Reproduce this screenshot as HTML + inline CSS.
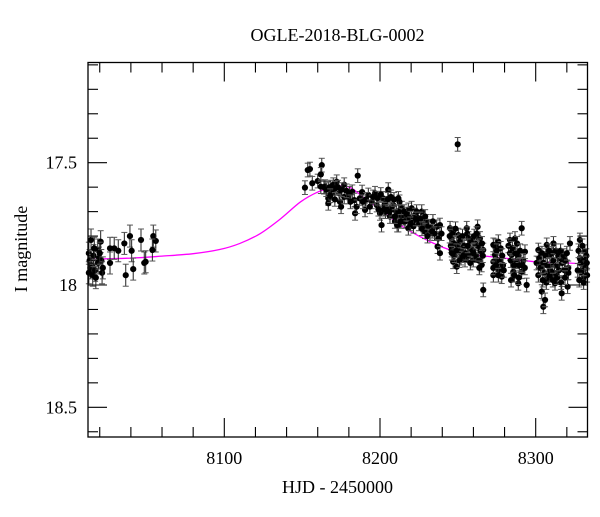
<!DOCTYPE html>
<html><head><meta charset="utf-8"><style>
html,body{margin:0;padding:0;background:#fff;}
svg text{font-family:"Liberation Serif",serif;fill:#000;}
</style></head><body>
<svg id="chart" width="600" height="512" viewBox="0 0 600 512" xmlns="http://www.w3.org/2000/svg">
<text x="337.5" y="41" font-size="18" text-anchor="middle">OGLE-2018-BLG-0002</text>
<text x="337.5" y="493" font-size="18" text-anchor="middle">HJD - 2450000</text>
<text x="0" y="0" font-size="18" text-anchor="middle" transform="translate(27,249) rotate(-90)">I magnitude</text>
<g id="ticks"></g>
<g id="model"></g>
<g id="pts"></g>
<rect x="88" y="62.5" width="499.5" height="374.5" fill="none" stroke="#000" stroke-width="1.3"/>
</svg>
<script>
const xMajorTicks=[8100,8200,8300];
const xMinorTicks=[8020,8040,8060,8080,8120,8140,8160,8180,8220,8240,8260,8280,8320];
const yMajorTicks=[17.5,18,18.5];
const yMinorTicks=[17.1,17.2,17.3,17.4,17.6,17.7,17.8,17.9,18.1,18.2,18.3,18.4,18.6];
const xTickLabels=["8100","8200","8300"];
const yTickLabels=["17.5","18","18.5"];
const modelHjd=[8012,8040,8060,8080,8097,8110,8123,8136,8149,8160,8170,8176,8182,8190,8200,8212,8225,8240,8250,8265,8280,8300,8320,8334];
const modelMag=[17.895,17.89,17.882,17.872,17.855,17.83,17.79,17.73,17.66,17.62,17.60,17.595,17.605,17.645,17.69,17.75,17.80,17.845,17.865,17.88,17.89,17.905,17.91,17.915];
const earlyErr=0.045;
const earlyHjd=[8013,8013.5,8014,8014.4,8015,8015.5,8016,8017,8017.5,8018.7,8019,8019.5,8020.6,8021,8021.5,8022,8020,8013,8016.5,8026.6,8026.6,8029.3,8031.9,8035.8,8039.4,8040.5,8036.7,8041.5,8046.5,8048.6,8049.5,8054.4,8056,8053.8];
const earlyMag=[17.87,17.90,17.93,17.816,17.92,17.96,17.88,17.94,17.97,17.857,17.91,17.89,17.823,17.90,17.95,17.93,17.87,17.95,17.85,17.85,17.91,17.85,17.86,17.83,17.80,17.86,17.96,17.935,17.816,17.91,17.905,17.80,17.82,17.857];
const mainErr=0.028;
const mainHjd=[8151.8,8153.6,8155,8156.5,8160,8162.6,8162,8162,8164.7,8166.8,8170,8172.2,8166.8,8166.8,8169,8173.7,8174.3,8175,8177,8177,8179.6,8185.7,8182.2,8183.5,8184,8185,8187,8190.4,8192.5,8194.7,8196.8,8197.9,8200,8201,8202,8204,8205.3,8206.4,8208.5,8209.6,8211.8,8214,8215,8249.9,
8164,8165.5,8168,8171,8173,8175.5,8178.5,8180.5,8181,8168,8171,8188.5,8189,8191,8193.5,8195.5,8198.5,8199,8200.5,8203,8203.5,8205,8207,8207.5,8209,8210.5,8212.5,8213,8215.5,8216,
8211.8,8211.8,8211,8218.2,8220.3,8219.2,8218.2,8222.5,8224.6,8226.8,8227.8,8230,8228.9,8232.1,8233.2,8236.4,8237.4,8237,8238.5,8238.5,8245,8246,8246,8247,8249.3,8249.3,8250.3,8252.5,8254.6,8255.7,8256.8,8257.8,8259.9,8261,8262.7,8264.2,8265.3,8266.3,8266.3,8272.8,8272.8,8272.8,
8221,8223.5,8225,8229,8231,8234,8235,8239.5,8221.5,8226,8246.5,8247.5,8248,8250.5,8251.5,8252,8253,8254,8255,8256,8257,8258.5,8259.5,8260.5,8261.5,8263,8263.5,8264.5,8265.5,8266,8245.5,8248.5,8262,8244.8,
8291,8276,8273.9,8272.8,8278.2,8277.2,8283.5,8286.7,8284.6,8287.8,8285.6,8288.8,8291,8294.2,8293.1,8301.7,8300.6,8301.7,8303.9,8304.9,8306,8307.1,8309.2,8310.3,8311.4,8313.5,8312.4,8315.6,8316.7,8320.9,8320.5,8322,8328.4,8328.4,8330.5,8330.5,8331.6,
8274,8275,8275.5,8276.5,8277.5,8278.5,8279,8282.5,8283.5,8284,8285,8286,8287,8288,8289,8289.5,8290,8292,8293,8302.5,8303,8304,8305,8305.5,8306.5,8307.5,8308,8308.5,8309.5,8310.5,8311.5,8312,8313,8314,8314.5,8315,8316,8317,8318,8318.5,8319,8320,8321,8327.5,8329,8329.5,8330,8331,8332,8332.5,8333,8327,
8202.5,8206,8209.5,8213.5,8217,8219.5,8223,8227,8230.5,8233.5,8246.2,8249,8251,8253.5,8256.3,8258,8260,8263.8,8274.5,8276,8279.5,8284.2,8286.3,8289.2,8291.5,8304.5,8306.8,8309,8311,8313.8,8316.3,8318.8,8328,8330.8,8332.8];
const mainMag=[17.602,17.53,17.526,17.584,17.575,17.51,17.548,17.598,17.598,17.605,17.59,17.578,17.646,17.666,17.625,17.625,17.66,17.68,17.59,17.64,17.64,17.553,17.619,17.653,17.707,17.68,17.646,17.693,17.632,17.66,17.625,17.673,17.707,17.755,17.646,17.686,17.61,17.72,17.673,17.74,17.755,17.686,17.727,17.425,
17.60,17.61,17.60,17.605,17.60,17.61,17.615,17.625,17.66,17.635,17.65,17.62,17.66,17.65,17.68,17.64,17.645,17.69,17.63,17.67,17.70,17.65,17.64,17.69,17.65,17.70,17.66,17.72,17.70,17.74,
17.646,17.70,17.755,17.693,17.686,17.727,17.768,17.714,17.727,17.70,17.755,17.74,17.782,17.789,17.768,17.762,17.81,17.843,17.87,17.755,17.768,17.81,17.857,17.905,17.925,17.836,17.796,17.864,17.898,17.768,17.81,17.85,17.898,17.83,17.762,17.81,17.918,17.857,18.02,17.836,17.905,17.96,
17.74,17.70,17.75,17.72,17.76,17.74,17.79,17.79,17.76,17.73,17.79,17.83,17.88,17.85,17.82,17.89,17.80,17.84,17.87,17.79,17.88,17.82,17.86,17.80,17.88,17.84,17.90,17.86,17.83,17.88,17.84,17.77,17.79,17.80,
17.768,17.823,17.877,17.93,17.966,17.905,17.816,17.81,17.877,17.905,17.946,17.993,17.946,18.0,17.864,17.857,17.91,17.96,18.027,18.089,18.061,17.836,17.877,17.918,17.83,17.96,17.993,17.89,18.034,17.93,18.007,17.83,17.816,17.89,17.93,17.973,17.864,
17.84,17.86,17.90,17.94,17.85,17.88,17.92,17.84,17.87,17.90,17.85,17.92,17.87,17.83,17.88,17.92,17.86,17.90,17.93,17.89,17.93,17.87,17.91,17.95,17.88,17.92,17.97,17.86,17.94,17.87,17.90,17.95,17.86,17.92,17.88,17.94,17.86,17.91,17.88,17.94,17.90,17.87,17.95,17.86,17.91,17.95,17.84,17.90,17.93,17.88,17.96,17.94,
17.69,17.70,17.72,17.74,17.71,17.75,17.73,17.77,17.80,17.78,17.87,17.86,17.90,17.88,17.84,17.91,17.87,17.93,17.92,17.96,17.94,17.98,17.96,17.97,17.92,17.98,17.99,17.96,17.98,17.97,17.99,17.97,17.98,17.99,17.91];

const X0=88,X1=587.5,Y0=62.5,Y1=437;
function xs(t){return 224.3+(t-8100)*1.557;}
function ys(m){return 162.7+(m-17.5)*244.6;}
const NS="http://www.w3.org/2000/svg";
function mk(tag,attrs,parent){const e=document.createElementNS(NS,tag);for(const k in attrs)e.setAttribute(k,attrs[k]);parent.appendChild(e);return e;}
const tg=document.getElementById('ticks');
function tickLine(x1,y1,x2,y2,name){const l=mk('line',{x1:x1,y1:y1,x2:x2,y2:y2,stroke:'#000','stroke-width':1.1},tg);

}
xMajorTicks.forEach((t,i)=>{const x=xs(t);tickLine(x,Y1,x,Y1-19,'x-major-tick');tickLine(x,Y0,x,Y0+19,'x-major-tick-top');
const tx=mk('text',{x:x,y:464,'font-size':18,'text-anchor':'middle'},tg);tx.textContent=xTickLabels[i];

});
xMinorTicks.forEach(t=>{const x=xs(t);tickLine(x,Y1,x,Y1-10,'x-minor-tick');tickLine(x,Y0,x,Y0+10,'x-minor-tick-top');});
yMajorTicks.forEach((m,i)=>{const y=ys(m);tickLine(X0,y,X0+19,y,'y-major-tick');tickLine(X1,y,X1-19,y,'y-major-tick-right');
const tx=mk('text',{x:77,y:y+6,'font-size':18,'text-anchor':'end'},tg);tx.textContent=yTickLabels[i];

});
yMinorTicks.forEach(m=>{const y=ys(m);tickLine(X0,y,X0+10,y,'y-minor-tick');tickLine(X1,y,X1-10,y,'y-minor-tick-right');});
(function(){const p=modelHjd.map((t,i)=>[xs(t),ys(modelMag[i])]);let d='M'+p[0][0]+','+p[0][1];
for(let i=0;i<p.length-1;i++){const a=p[Math.max(0,i-1)],b=p[i],c=p[i+1],e=p[Math.min(p.length-1,i+2)];
d+=' C'+(b[0]+(c[0]-a[0])/6)+','+(b[1]+(c[1]-a[1])/6)+' '+(c[0]-(e[0]-b[0])/6)+','+(c[1]-(e[1]-b[1])/6)+' '+c[0]+','+c[1];}
const mg=document.getElementById('model');
const pa=mk('path',{d:d,fill:'none',stroke:'#ff00ff','stroke-width':1.3},mg);

})();
const pg=document.getElementById('pts');
function drawPts(hjd,mag,err){hjd.forEach((t,i)=>{const x=xs(t),y=ys(mag[i]),dy=err*244.6;
const g=mk('g',{},pg);


mk('line',{x1:x,y1:y-dy,x2:x,y2:y+dy,stroke:'#222','stroke-width':1},g);
mk('line',{x1:x-3,y1:y-dy,x2:x+3,y2:y-dy,stroke:'#555','stroke-width':1},g);
mk('line',{x1:x-3,y1:y+dy,x2:x+3,y2:y+dy,stroke:'#555','stroke-width':1},g);
mk('circle',{cx:x,cy:y,r:3.1,fill:'#000'},g);});}
drawPts(earlyHjd,earlyMag,earlyErr);
drawPts(mainHjd,mainMag,mainErr);
</script>
</body></html>
